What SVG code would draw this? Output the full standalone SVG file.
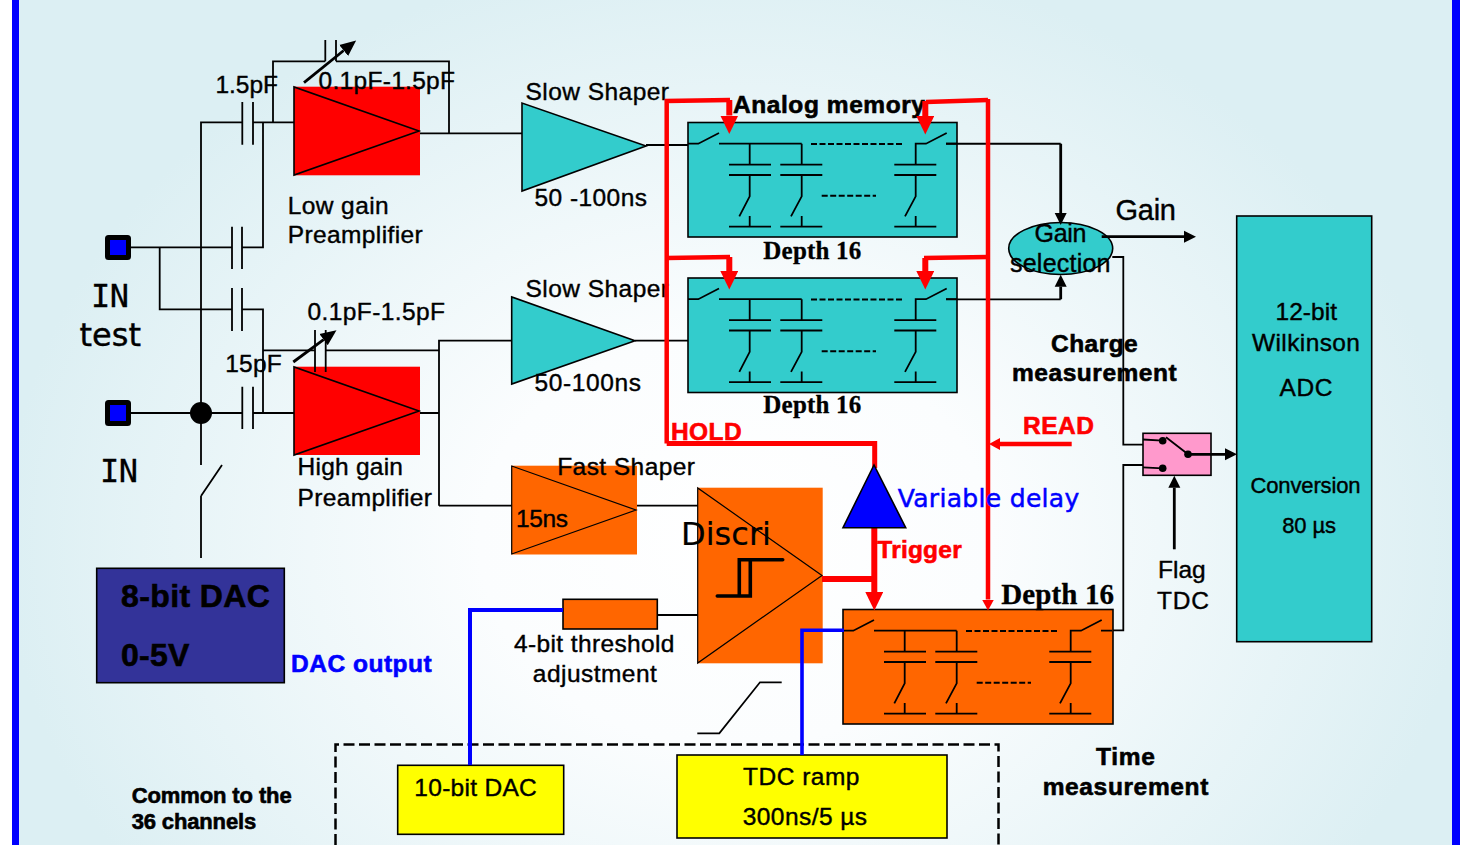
<svg xmlns="http://www.w3.org/2000/svg" width="1475" height="845" viewBox="0 0 1475 845">
<style>
text{font-family:"Liberation Sans",Arial,sans-serif;font-size:24.500px;fill:#000;stroke:#000;stroke-width:.4px}
.b{font-weight:bold;stroke-width:.6px}
.dv{font-family:"DejaVu Sans",sans-serif;stroke-width:.2px}
.mono{font-family:"DejaVu Sans Mono",monospace;stroke-width:.3px}
.serif{font-family:"Liberation Serif",serif;font-weight:bold;stroke-width:.3px}
.red{fill:#f00;stroke:#f00}
.blue{fill:#00f;stroke:#00f}
.ln{fill:none;stroke:#000;stroke-width:1.8}
.th{fill:none;stroke:#000;stroke-width:2.8}
.tri{stroke:#000;stroke-width:1.6}
.tri2{fill:none;stroke:#000;stroke-width:1.2}
.box{stroke:#000;stroke-width:1.6}
.teal{fill:#3cc}
.org{fill:#f60}
.yel{fill:#ff0}
.r1{fill:none;stroke:#f00;stroke-width:4.5}
.r2{fill:none;stroke:#f00;stroke-width:6}
.bl{fill:none;stroke:#00f;stroke-width:3.6}
.pad{fill:#00f;stroke:#000;stroke-width:5}
</style>
<defs>
<radialGradient id="bg" gradientUnits="userSpaceOnUse" cx="0" cy="0" r="1" gradientTransform="translate(735 540) scale(730 590)">
<stop offset="0" stop-color="#fff"/><stop offset=".35" stop-color="#fbfdfe"/><stop offset="1" stop-color="#dceff3"/>
</radialGradient>
<marker id="hr" markerUnits="userSpaceOnUse" markerWidth="19" markerHeight="18" refX="0" refY="9" orient="auto"><path d="M0 0L18.500 9L0 18Z" fill="#f00"/></marker>
<marker id="hrs" markerUnits="userSpaceOnUse" markerWidth="12" markerHeight="14" refX="0" refY="7" orient="auto"><path d="M0 1L11 7L0 13Z" fill="#f00"/></marker>
<marker id="hk" markerUnits="userSpaceOnUse" markerWidth="13" markerHeight="14" refX="0" refY="7" orient="auto"><path d="M0 1L12 7L0 13Z" fill="#000"/></marker>
<marker id="hkl" markerUnits="userSpaceOnUse" markerWidth="17" markerHeight="16" refX="0" refY="8" orient="auto"><path d="M0 1L16 8L0 15Z" fill="#000"/></marker>
<g id="cell">
<path class="ln" d="M688 143.700H698.300L719 133M719 143.700H801.700M749.700 143.700V164.700M729 164.700H771M729 175H771M749.700 175V196.300L739.300 216.300M749.700 216V226.700M729 226.700H771"/>
<path class="ln" d="M801.700 143.700V164.700M780.300 164.700H822.300M780.300 175H822.300M801.700 175V196.300L791 216.300M801.700 216V226.700M780.300 226.700H822.300"/>
<path class="ln" d="M915.700 164.700V143.700H926L946.700 133M894.300 164.700H936.300M894.300 175H936.300M915.700 175V196.300L905 216.300M915.700 216V226.700M894.300 226.700H936.300M946 143.700H957"/>
<path class="ln" stroke-dasharray="6 2.500" style="stroke-width:2" d="M811 144H904M821.700 195.700H876"/>
</g>
</defs>
<g id="background">
<rect x="19" y="0" width="1433" height="845" fill="url(#bg)"/>
<rect x="12" y="0" width="7" height="845" fill="#00f"/>
<rect x="1452" y="0" width="8" height="845" fill="#00f"/>
</g>
<g id="common-box"><path fill="none" stroke="#000" stroke-width="2.500" stroke-dasharray="11 4.500" d="M335.500 845V744.500H998.500V845"/>
<text class="b" x="131.700" y="803.300" style="font-size:22px" textLength="160">Common to the</text>
<text class="b" x="131.700" y="829.300" style="font-size:22px" textLength="124.500">36 channels</text></g>
<g id="in-test-pad"><rect class="pad" x="107.500" y="237.500" width="21" height="20" rx="1"/>
<text class="mono" x="91" y="306.700" style="font-size:32px" textLength="38">IN</text>
<text class="dv" x="79.500" y="346" style="font-size:32px;stroke-width:.4px" textLength="61.500">test</text></g>
<g id="in-pad"><rect class="pad" x="107.500" y="402.500" width="21" height="21" rx="1"/>
<text class="mono" x="100" y="482" style="font-size:32px" textLength="38">IN</text></g>
<g id="low-gain-preamp"><rect x="294" y="86.700" width="126" height="88.600" fill="#f00"/><path class="tri" fill="none" d="M294 87V175L419 131Z"/>
<text x="287.700" y="214.300" textLength="101">Low gain</text>
<text x="287.700" y="243.300" textLength="135">Preamplifier</text></g>
<g id="high-gain-preamp"><rect x="294" y="366.700" width="126" height="88.300" fill="#f00"/><path class="tri" fill="none" d="M294 367V455L419 411Z"/>
<text x="297.500" y="475" textLength="105.500">High gain</text>
<text x="297.500" y="505.500" textLength="134.500">Preamplifier</text></g>
<g id="slow-shaper-1"><path class="tri teal" d="M522 103V191L646 146Z"/>
<text x="525.500" y="100" textLength="143.500">Slow Shaper</text>
<text x="534.500" y="206" textLength="112.500">50 -100ns</text></g>
<g id="slow-shaper-2"><path class="tri teal" d="M511.700 297V384L635 340.700Z"/>
<text x="525.500" y="297.300" textLength="143.500">Slow Shaper</text>
<text x="534.500" y="391" textLength="106.500">50-100ns</text></g>
<g id="fast-shaper"><rect class="org" x="511.700" y="465.700" width="125.300" height="88.800"/><path class="tri2" d="M511.700 466V554L636 510Z"/>
<text x="557.200" y="475" textLength="137.800">Fast Shaper</text>
<text x="516" y="527.300" textLength="52">15ns</text></g>
<g id="discri"><rect class="org" x="697.700" y="487.700" width="125" height="175.600"/><path class="tri2" d="M697.700 488V663L822 575.500Z"/>
<path class="th" style="stroke-width:3.600" stroke-linecap="round" d="M717.300 596H750.300V559.700H739.300V596M739.300 559.700H782.700"/>
<text class="dv" x="681" y="545" style="font-size:32px" textLength="90">Discri</text></g>
<g id="threshold-adjust"><rect class="box org" x="563" y="599.300" width="94.300" height="29.700"/>
<text x="514" y="651.700" textLength="160.500">4-bit threshold</text>
<text x="532.800" y="681.700" textLength="124">adjustment</text></g>
<g id="memory-low"><rect class="box teal" x="688" y="122.500" width="269" height="114.500"/><use href="#cell"/>
<text class="b" x="733" y="113.300" textLength="192">Analog memory</text>
<text class="serif" x="763.300" y="258.800" style="font-size:25px" textLength="98">Depth 16</text></g>
<g id="memory-high"><rect class="box teal" x="688" y="278" width="269" height="114.500"/><use href="#cell" y="155.500"/>
<text class="serif" x="763.300" y="412.800" style="font-size:25px" textLength="98">Depth 16</text></g>
<g id="memory-time"><rect class="box org" x="843" y="609.500" width="270" height="114.500"/><use href="#cell" x="155" y="487"/>
<text class="serif" x="1001.200" y="603.800" style="font-size:29px" textLength="112.800">Depth 16</text></g>
<g id="gain-selection"><ellipse class="box teal" cx="1060.700" cy="248.500" rx="52" ry="26"/>
<text x="1034.500" y="241.700" style="font-size:25px" textLength="52">Gain</text>
<text x="1010" y="271.700" style="font-size:25px" textLength="100.500">selection</text></g>
<g id="output-mux"><rect class="box" fill="#f9c" x="1143" y="433.300" width="68" height="42"/>
<path class="ln" d="M1143 439.500L1162.700 440.700M1143 467.300L1162.700 468.300M1166 437.300L1188 454.300"/>
<circle cx="1162.700" cy="440.700" r="3.800"/><circle cx="1162.700" cy="468.300" r="3.800"/><circle cx="1188" cy="454.300" r="3.800"/></g>
<g id="adc"><rect class="box teal" x="1236.700" y="216" width="135" height="425.700"/>
<text x="1275.500" y="320" textLength="61.500">12-bit</text>
<text x="1252" y="350.500" textLength="108">Wilkinson</text>
<text x="1279.500" y="396" textLength="53">ADC</text>
<text x="1250.500" y="492.700" style="font-size:22px" textLength="110">Conversion</text>
<text x="1282.200" y="532.700" style="font-size:22px" textLength="53.800">80 µs</text></g>
<g id="dac-8bit"><rect class="box" fill="#339" x="96.700" y="568.300" width="187.600" height="114.400"/>
<text class="b" x="121" y="607.300" style="font-size:32px" textLength="148.800">8-bit DAC</text>
<text class="b" x="121" y="666" style="font-size:32px" textLength="68.300">0-5V</text></g>
<g id="dac-10bit"><rect class="box yel" x="397.700" y="765.300" width="166" height="69"/>
<text x="414.300" y="796" textLength="122.400">10-bit DAC</text></g>
<g id="tdc-ramp"><rect class="box yel" x="677" y="755" width="270" height="83"/>
<text x="743" y="785" textLength="116.500">TDC ramp</text>
<text x="742.700" y="825" textLength="124.300">300ns/5 µs</text></g>
<g id="connectors">
<g class="black-wires">
<path class="ln" d="M131 247.300H232M242 247.300H263V122.300M201 465V122.300H242M253 122.300H294M273 122.300V61.300H325.300M336 61.300H449V133.300M420 133.300H522"/>
<path class="ln" d="M159.700 247.300V309.300H232M242 309.300H263V413M131 413H242M253 413H294M201 496L222 465M201 496V558"/>
<path class="ln" d="M263 350.300H315M325.700 350.300H439M420 413H439M439 505.700V340.700H511.700M439 505.700H511.700M635 340.700H688M646 145H688M637 505.700H697.700M657.300 615H697.700"/>
<path class="ln" d="M242.300 102V144.700M253 102V144.700M232 226.700V269M242 226.700V269M232 288V331M242 288V331M242.300 386.700V429M253 386.700V429M325.300 40V61.300M336 40V61.300M315 330V372M325.700 330V372"/>
<path class="ln" d="M1112.300 257H1123.300V444.700H1143M1143 465H1123.300V630.300H1113M697.300 733.300H719.300L760 682.300H781.700"/>
<path class="th" marker-end="url(#hkl)" d="M304 82.700L343.700 50.500"/>
<path class="th" marker-end="url(#hkl)" d="M293.300 362L323.600 339.700"/>
<path class="th" style="stroke-width:2" d="M946 143.700H1060.700"/>
<path class="th" marker-end="url(#hk)" d="M1060.700 143.700V213"/>
<path class="ln" d="M946 299.300H1060.700"/>
<path class="th" marker-end="url(#hk)" d="M1060.700 299.300V286.700"/>
<path class="th" marker-end="url(#hk)" d="M1101.700 236.700H1184"/>
<path class="th" marker-end="url(#hk)" d="M1188 454.300H1225"/>
<path class="th" marker-end="url(#hk)" d="M1174.300 549.300V487.700"/>
</g>
<g class="red-wires">
<path class="r1" d="M666.700 443.500V101L730 100"/><path class="r2" marker-end="url(#hr)" d="M729.300 100V115.500"/>
<path class="r1" d="M666.700 258L730 257"/><path class="r2" marker-end="url(#hr)" d="M729.300 257V271"/>
<path class="r1" marker-end="url(#hrs)" d="M988 99V599.500"/>
<path class="r1" d="M988 100L926 102"/><path class="r2" marker-end="url(#hr)" d="M925.300 101V116"/>
<path class="r1" d="M988 257L924 258"/><path class="r2" marker-end="url(#hr)" d="M925.300 258V271"/>
<path class="r2" style="stroke-width:5" d="M666.700 443.500H874.700V468"/>
<path class="r2" marker-end="url(#hr)" d="M874.300 527V592"/>
<path class="r2" d="M822 579H874"/>
<path class="r1" marker-end="url(#hrs)" d="M1071.700 444H1000"/>
</g>
<path class="bl" style="stroke-width:4" d="M563 610H470V765"/>
<path class="bl" d="M844 630.300H802V755"/>
</g>
<g id="delay"><path class="box" fill="#00f" d="M874 465L843 527.700H905.700Z"/></g>
<g id="labels">
<circle cx="201" cy="413" r="11"/>
<text x="215.500" y="92.700" textLength="62.500">1.5pF</text>
<text x="318.500" y="89.300" textLength="136.500">0.1pF-1.5pF</text>
<text x="225.200" y="371.700" textLength="56.500">15pF</text>
<text x="307.500" y="320" textLength="137.500">0.1pF-1.5pF</text>
<text x="1115.500" y="220" style="font-size:29px" textLength="60.500">Gain</text>
<text class="b" x="1051" y="351.700" textLength="86.700">Charge</text>
<text class="b" x="1012" y="381" textLength="164.700">measurement</text>
<text class="b red" x="1023" y="434" textLength="71">READ</text>
<text class="b red" x="671" y="440" textLength="70.700">HOLD</text>
<text class="dv" x="897.700" y="507.300" style="font-size:25px;fill:#00f;stroke:#00f;stroke-width:.5px" textLength="181.600">Variable delay</text>
<text class="b red" x="877.300" y="558.300" textLength="84.400">Trigger</text>
<text class="b blue" x="291" y="672" textLength="140.700">DAC output</text>
<text x="1158" y="578.300" textLength="47.700">Flag</text>
<text x="1157" y="609" textLength="52">TDC</text>
<text class="b" x="1096" y="765" textLength="59">Time</text>
<text class="b" x="1042.700" y="795" textLength="165.600">measurement</text>
</g>
</svg>
